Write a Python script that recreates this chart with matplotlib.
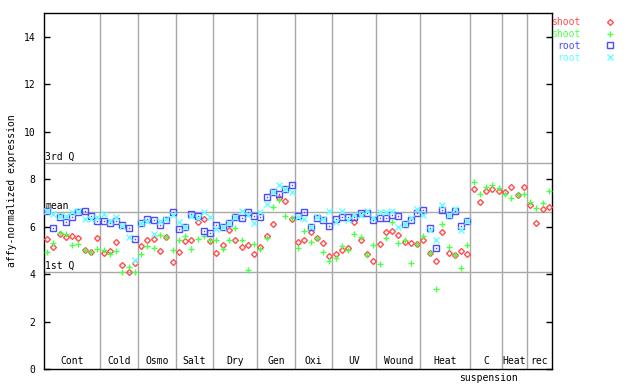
import matplotlib
matplotlib.use('Agg')
import matplotlib.pyplot as plt
from matplotlib.lines import Line2D

# condition groups along the x axis (number of samples in each)
groups = ['Cont', 'Cold', 'Osmo', 'Salt', 'Dry', 'Gen', 'Oxi', 'UV', 'Wound', 'Heat', 'C', 'Heat', 'rec']
group_sizes = [9, 6, 6, 6, 7, 6, 6, 7, 7, 8, 5, 4, 4]

quartile_values = [8.67, 6.61, 4.08]
quartile_labels = ['3rd Q', 'mean', '1st Q']

shoot_red = [5.47, 5.13, 5.67, 5.55, 5.60, 5.51, 5.02, 4.95, 5.51, 4.88,
             4.98, 5.36, 4.39, 4.08, 4.46, 5.18, 5.44, 5.48, 4.98, 5.55,
             4.50, 4.92, 5.41, 5.44, 6.21, 6.31, 5.41, 4.88, 5.23, 5.86,
             5.44, 5.16, 5.23, 4.84, 5.13, 5.61, 6.12, 7.20, 7.06, 6.30,
             5.35, 5.44, 5.78, 5.51, 5.30, 4.77, 4.85, 5.02, 5.09, 6.21,
             5.44, 4.85, 4.55, 5.26, 5.79, 5.82, 5.65, 5.37, 5.30, 5.26,
             5.44, 4.88, 4.55, 5.79, 4.88, 4.81, 4.98, 4.84,
             7.58, 7.03, 7.48, 7.58, 7.48, 7.44, 7.66, 7.34, 7.66, 6.89, 6.14, 6.73, 6.82]
shoot_green = [4.95, 5.30, 5.72, 5.68, 5.23, 5.27, 5.02, 4.91, 5.05, 5.02,
               4.85, 4.98, 4.09, 4.29, 4.08, 4.85, 5.20, 5.08, 5.63, 5.58,
               5.01, 5.44, 5.61, 5.07, 5.47, 5.61, 5.44, 5.44, 5.05, 5.44,
               5.92, 5.44, 4.18, 5.26, 5.05, 5.51, 6.82, 7.13, 6.44, 6.35,
               5.09, 5.83, 5.34, 5.51, 4.91, 4.55, 4.67, 5.19, 5.02, 5.69,
               5.55, 4.81, 5.23, 4.43, 5.51, 6.21, 5.30, 5.44, 4.45, 5.26,
               5.61, 4.88, 3.36, 6.12, 5.16, 4.81, 4.24, 5.22,
               7.87, 7.38, 7.66, 7.76, 7.62, 7.37, 7.20, 7.34, 7.38, 7.03, 6.78, 6.99, 7.50]
root_blue = [6.67, 5.93, 6.40, 6.21, 6.41, 6.61, 6.66, 6.45, 6.23, 6.23,
             6.14, 6.23, 6.05, 5.93, 5.47, 6.17, 6.31, 6.26, 6.06, 6.26,
             6.61, 5.89, 5.98, 6.51, 6.45, 5.81, 5.72, 6.05, 6.00, 6.17,
             6.42, 6.36, 6.61, 6.43, 6.42, 7.24, 7.44, 7.38, 7.58, 7.76,
             6.44, 6.61, 5.98, 6.36, 6.26, 6.02, 6.31, 6.42, 6.42, 6.42,
             6.57, 6.57, 6.26, 6.36, 6.36, 6.50, 6.45, 6.10, 6.26, 6.57,
             6.68, 5.96, 5.09, 6.71, 6.50, 6.64, 6.03, 6.24]
root_cyan = [6.66, 6.51, 6.45, 6.45, 6.63, 6.64, 6.31, 6.31, 6.42, 6.51,
             6.24, 6.41, 6.04, 5.56, 4.60, 6.15, 6.22, 5.68, 6.24, 6.30,
             6.49, 6.18, 6.00, 6.45, 6.35, 6.62, 6.40, 5.90, 6.00, 6.17,
             6.42, 6.64, 6.47, 6.17, 6.61, 6.96, 7.44, 7.76, 7.59, 7.45,
             6.42, 6.31, 6.00, 6.40, 6.30, 6.64, 6.21, 6.65, 6.26, 6.50,
             6.48, 6.64, 6.36, 6.60, 6.60, 6.64, 5.98, 6.10, 6.36, 6.73,
             6.48, 5.86, 5.44, 6.91, 6.50, 6.73, 5.86, 6.24]

red = '#ff4c4c'
green = '#4cff4c'
blue = '#4c4cff'
cyan = '#66ffff'
grey = '#a8a8a8'

plt.rcParams['font.family'] = 'DejaVu Sans Mono'
plt.rcParams['font.size'] = 7

fig = plt.figure(figsize=(6.4, 3.84), dpi=100)
ax = fig.add_axes([44 / 640, 15 / 384, 508 / 640, 356 / 384])

n = sum(group_sizes)
ax.set_xlim(-0.5, n - 0.5)
ax.set_ylim(0, 15)

# quartile lines
for v, lab in zip(quartile_values, quartile_labels):
    ax.axhline(v, color=grey, lw=1, zorder=1)
    ax.text(-0.3, v + 0.05, lab, ha='left', va='bottom', fontsize=7, zorder=2)

# group separators and labels
start = 0
for i, (g, size) in enumerate(zip(groups, group_sizes)):
    end = start + size
    if end < n:
        ax.axvline(end - 0.5, color=grey, lw=1, zorder=1)
    center = (start + end - 1) / 2
    ax.text(center, 0.32, g, ha='center', va='center', fontsize=7)
    if g == 'C':
        ax.text(center + 0.4, -0.36, 'suspension', ha='center', va='center', fontsize=7, clip_on=False)
    start = end

xr = list(range(len(shoot_red)))
xb = list(range(len(root_blue)))
ax.plot(xr, shoot_red, ls='none', marker='D', ms=3.0, mfc='none', mec=red, mew=1, zorder=3)
ax.plot(xr, shoot_green, ls='none', marker='+', ms=5.0, mec=green, mew=1, zorder=3)
ax.plot(xb, root_blue, ls='none', marker='s', ms=4.2, mfc='none', mec=blue, mew=1, zorder=4)
ax.plot(xb, root_blue, ls='none', marker='s', ms=1, mfc=blue, mec=blue, mew=0, zorder=4)
ax.plot(xb, root_cyan, ls='none', marker='x', ms=4.2, mec=cyan, mew=1, zorder=5)

ax.set_xticks([])
ax.set_yticks(range(0, 15, 2))
ax.tick_params(axis='y', direction='in', length=4.5, width=1, left=True, right=True, pad=6, labelsize=7)
for s in ax.spines.values():
    s.set_linewidth(1)
ax.set_ylabel('affy-normalized expression', fontsize=7, labelpad=5)

handles = [Line2D([], [], ls='none', marker='D', ms=3.0, mfc='none', mec=red, mew=1),
           Line2D([], [], ls='none', marker='+', ms=5.0, mec=green, mew=1),
           Line2D([], [], ls='none', marker='s', ms=4.2, mfc='none', mec=blue, mew=1),
           Line2D([], [], ls='none', marker='x', ms=4.2, mec=cyan, mew=1)]
fig.legend(handles, ['shoot', 'shoot', 'root', 'root'], loc='upper left',
           bbox_to_anchor=(551 / 640, 1 - 17 / 384), frameon=False, markerfirst=False,
           labelcolor=[red, green, blue, cyan], handlelength=1, handletextpad=2.5,
           labelspacing=0.2, borderpad=0, borderaxespad=0, fontsize=7)

fig.savefig('out.png', dpi=100)
